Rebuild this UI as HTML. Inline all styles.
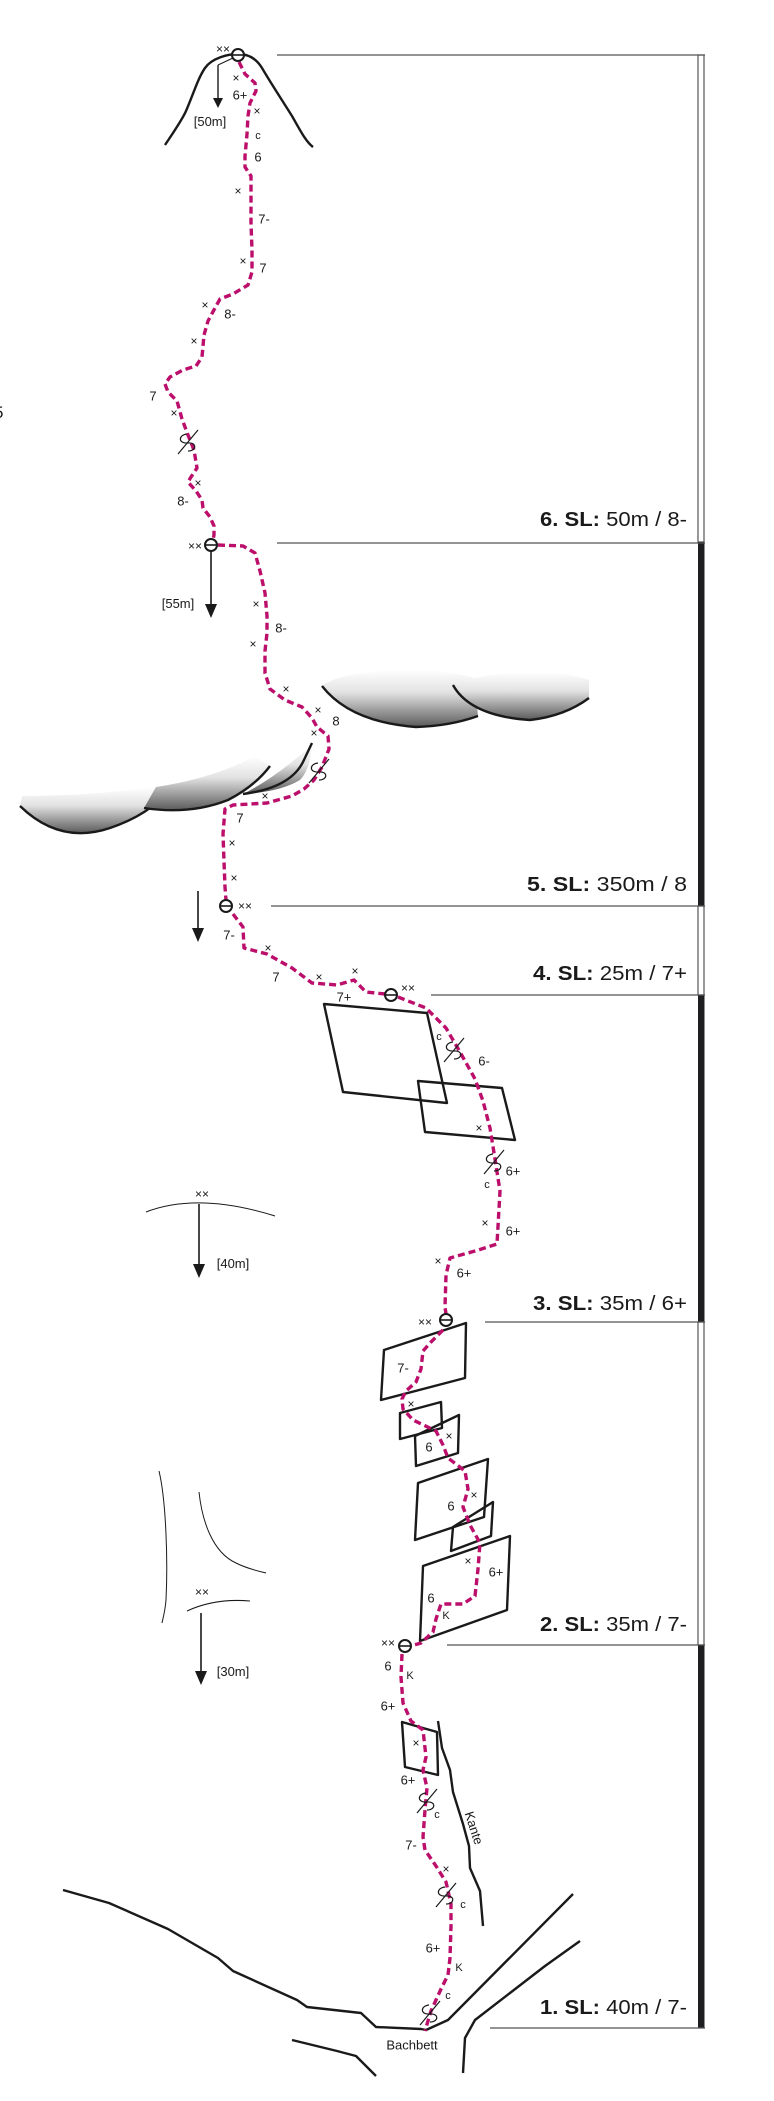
<!DOCTYPE html>
<html><head><meta charset="utf-8"><style>
html,body{margin:0;padding:0;background:#fff}
svg{display:block}
text{font-family:"Liberation Sans",sans-serif;fill:#1a1a1a}
.l{font-size:13px;text-anchor:middle;dominant-baseline:central}
.x{font-size:12px;text-anchor:middle;dominant-baseline:central}
.sl{font-size:20px;text-anchor:end}
.r{fill:none;stroke:#bb0f6b;stroke-width:3.4;stroke-dasharray:7 4;stroke-linejoin:round}
.b{fill:none;stroke:#1a1a1a;stroke-width:2.4;stroke-linejoin:round}
.t{fill:none;stroke:#1a1a1a;stroke-width:1}
.h{stroke:#555;stroke-width:1.3}
.c{fill:#fff;stroke:#1a1a1a;stroke-width:2}
.tw{fill:none;stroke:#1a1a1a;stroke-width:1.2}
</style></head><body>
<svg width="774" height="2101" viewBox="0 0 774 2101" xmlns="http://www.w3.org/2000/svg">
<defs>
<linearGradient id="g" x1="0" y1="0" x2="0" y2="1">
<stop offset="0" stop-color="#fff"/><stop offset="0.4" stop-color="#e2e2e2"/><stop offset="1" stop-color="#5a5a5a"/>
</linearGradient>
<g id="tw"><path class="tw" d="M-10,12 L10,-12"/><path class="tw" d="M-1,-8 C-10,-7 -10,2 0,1 C9,0 9,9 0,9"/></g>
<g id="bc"><circle class="c" r="6"/><line x1="-6" y1="0" x2="6" y2="0" stroke="#1a1a1a" stroke-width="1.6"/></g>
</defs>

<rect x="698" y="55" width="6" height="487" fill="#fff" stroke="#555" stroke-width="1.2"/>
<rect x="698" y="542" width="6.5" height="364" fill="#1f1f22"/>
<rect x="698" y="906" width="6" height="89" fill="#fff" stroke="#555" stroke-width="1.2"/>
<rect x="698" y="995" width="6.5" height="327" fill="#1f1f22"/>
<rect x="698" y="1322" width="6" height="323" fill="#fff" stroke="#555" stroke-width="1.2"/>
<rect x="698" y="1645" width="6.5" height="383" fill="#1f1f22"/>

<line class="h" x1="277" y1="55" x2="705" y2="55"/>
<line class="h" x1="277" y1="543" x2="705" y2="543"/>
<line class="h" x1="271" y1="906" x2="705" y2="906"/>
<line class="h" x1="431" y1="995" x2="705" y2="995"/>
<line class="h" x1="485" y1="1322" x2="705" y2="1322"/>
<line class="h" x1="447" y1="1645" x2="705" y2="1645"/>
<line class="h" x1="490" y1="2028" x2="705" y2="2028"/>

<text class="sl" x="687" y="526" textLength="147" lengthAdjust="spacingAndGlyphs"><tspan font-weight="bold">6. SL:</tspan> 50m / 8-</text>
<text class="sl" x="687" y="891" textLength="160" lengthAdjust="spacingAndGlyphs"><tspan font-weight="bold">5. SL:</tspan> 350m / 8</text>
<text class="sl" x="687" y="980" textLength="154" lengthAdjust="spacingAndGlyphs"><tspan font-weight="bold">4. SL:</tspan> 25m / 7+</text>
<text class="sl" x="687" y="1310" textLength="154" lengthAdjust="spacingAndGlyphs"><tspan font-weight="bold">3. SL:</tspan> 35m / 6+</text>
<text class="sl" x="687" y="1631" textLength="147" lengthAdjust="spacingAndGlyphs"><tspan font-weight="bold">2. SL:</tspan> 35m / 7-</text>
<text class="sl" x="687" y="2014" textLength="147" lengthAdjust="spacingAndGlyphs"><tspan font-weight="bold">1. SL:</tspan> 40m / 7-</text>

<text x="-6" y="418" style="font-size:17px">5</text>

<path class="b" stroke-width="3.2" d="M165,145 C175,130 182,120 186,111 C193,95 198,78 205,68 C212,58 228,54 238,54 C248,54 256,58 262,68 C272,85 282,100 292,116 C300,130 306,142 313,147"/>
<path class="t" d="M233,58 L218,65"/>
<line x1="218" y1="65" x2="218" y2="100" stroke="#1a1a1a" stroke-width="1.4"/>
<path d="M213,98 L218,108 L223,98 Z" fill="#1a1a1a"/>
<text x="210" y="126" style="font-size:13px;text-anchor:middle">[50m]</text>

<path d="M322,686 Q340,672 400,670 Q440,668 474,678 L478,716 Q450,726 416,727 Q350,722 322,686 Z" fill="url(#g)"/>
<path class="b" stroke-width="1.6" d="M322,686 Q350,722 416,727 Q450,726 478,716"/>
<path d="M453,685 Q470,676 520,672 Q560,670 589,680 L589,698 Q565,716 530,720 Q470,716 453,685 Z" fill="url(#g)"/>
<path class="b" stroke-width="1.6" d="M453,685 Q470,716 530,720 Q565,716 589,698"/>
<path d="M20,806 L22,796 Q90,796 156,787 L160,800 Q140,818 110,828 Q60,845 20,806 Z" fill="url(#g)"/>
<path class="b" stroke-width="1.6" d="M20,806 Q60,845 110,828 Q140,818 160,800"/>
<path d="M144,808 L156,787 Q215,778 255,756 L270,766 Q255,786 228,800 Q190,815 144,808 Z" fill="url(#g)"/>
<path class="b" stroke-width="1.6" d="M144,808 Q190,815 228,800 Q255,786 270,766"/>
<path d="M243,794 Q275,778 312,745 Q310,770 300,780 Q280,792 243,794 Z" fill="url(#g)"/>
<path class="b" stroke-width="1.3" d="M243,794 Q290,788 303,762 L312,743"/>

<line x1="211" y1="551" x2="211" y2="606" stroke="#1a1a1a" stroke-width="1.6"/>
<path d="M205,604 L211,618 L217,604 Z" fill="#1a1a1a"/>
<text x="178" y="608" style="font-size:13px;text-anchor:middle">[55m]</text>
<line x1="198" y1="891" x2="198" y2="930" stroke="#1a1a1a" stroke-width="1.6"/>
<path d="M192,928 L198,942 L204,928 Z" fill="#1a1a1a"/>

<path class="t" d="M146,1212 Q198,1192 275,1216"/>
<text class="x" x="202" y="1194">××</text>
<line x1="199" y1="1204" x2="199" y2="1266" stroke="#1a1a1a" stroke-width="1.6"/>
<path d="M193,1264 L199,1278 L205,1264 Z" fill="#1a1a1a"/>
<text x="233" y="1268" style="font-size:13px;text-anchor:middle">[40m]</text>

<path class="t" d="M159,1471 C166,1500 168,1560 166,1600 C165,1612 163,1618 162,1623"/>
<path class="t" d="M199,1492 C202,1520 212,1552 236,1563 C248,1569 258,1571 266,1573"/>
<path class="t" d="M187,1611 Q215,1598 250,1601"/>
<text class="x" x="202" y="1592">××</text>
<line x1="201" y1="1613" x2="201" y2="1673" stroke="#1a1a1a" stroke-width="1.6"/>
<path d="M195,1671 L201,1685 L207,1671 Z" fill="#1a1a1a"/>
<text x="233" y="1676" style="font-size:13px;text-anchor:middle">[30m]</text>

<polygon class="b" fill="#fff" points="418,1081 502,1088 515,1140 425,1132"/>
<polygon class="b" fill="#fff" points="324,1004 427,1013 447,1103 343,1092"/>
<polygon class="b" fill="#fff" points="384,1350 466,1323 465,1378 381,1400"/>
<polygon class="b" fill="#fff" points="400,1413 441,1402 442,1428 400,1439"/>
<polygon class="b" fill="#fff" points="415,1436 459,1415 458,1453 416,1466"/>
<polygon class="b" fill="#fff" points="453,1527 493,1502 491,1536 451,1551"/>
<polygon class="b" fill="#fff" points="418,1483 488,1459 484,1517 415,1540"/>
<polygon class="b" fill="#fff" points="423,1566 510,1536 507,1610 420,1641"/>
<polygon class="b" fill="#fff" points="402,1722 437,1732 438,1775 405,1767"/>

<path class="b" stroke-width="1.8" d="M438,1721 L442,1748 L450,1770 L453,1792 L463,1824 L469,1846 L470,1868 L480,1891 L483,1926"/>
<text x="474" y="1828" transform="rotate(72 474 1828)" style="font-size:13px;text-anchor:middle;dominant-baseline:central">Kante</text>

<path class="b" stroke-width="1.8" d="M63,1890 L109,1903 L168,1929 L218,1958 L233,1971 L297,2000 L307,2007 L361,2013 L376,2027 L421,2029 L426,2030 L448,2020 L573,1894"/>
<path class="b" stroke-width="3.2" d="M292,2040 L337,2051 L356,2056 L376,2076"/>
<path class="b" stroke-width="3.2" d="M580,1941 L545,1966 L510,1993 L475,2020 L465,2038 L463,2073"/>
<text x="412" y="2045" style="font-size:13px;text-anchor:middle;dominant-baseline:central">Bachbett</text>

<path class="r" d="M239,62 L245,74 L255,83 L256,91 L250,103 L248,116 L247,134 L245,156 L245,167 L251,176 L251,201 L251,223 L252,250 L252,272 L248,285 L233,294 L220,299 L215,308 L208,321 L204,335 L202,357 L196,366 L183,370 L170,377 L165,384 L168,392 L177,401 L182,419 L188,435 L194,450 L197,468 L191,477 L188,482 L196,491 L202,500 L203,508 L210,517 L214,526 L214,535 L213,540"/>
<path class="r" d="M218,545 L243,546 L255,553 L260,571 L265,593 L267,616 L267,633 L265,651 L265,673 L270,689 L285,700 L302,707 L312,718 L317,727 L328,736 L329,749 L322,767 L314,780 L304,789 L292,796 L267,803 L233,805 L225,809 L223,834 L224,861 L225,887 L226,900"/>
<path class="r" d="M233,914 L243,927 L244,948 L267,954 L292,968 L312,983 L337,985 L354,980 L366,992 L385,994"/>
<path class="r" d="M398,997 L426,1008 L446,1028 L460,1052 L475,1079 L483,1101 L490,1128 L495,1159 L500,1191 L497,1244 L475,1251 L450,1258 L446,1275 L445,1307 L446,1314"/>
<path class="r" d="M443,1330 L431,1342 L423,1351 L421,1369 L416,1382 L406,1391 L402,1399 L403,1409 L413,1420 L436,1431 L443,1445 L448,1458 L465,1471 L468,1489 L463,1507 L470,1525 L480,1543 L478,1569 L475,1596 L463,1604 L441,1604 L436,1619 L433,1632 L421,1643 L411,1646"/>
<path class="r" d="M402,1654 L401,1677 L403,1703 L411,1721 L423,1730 L426,1757 L423,1770 L427,1788 L425,1810 L423,1837 L425,1850 L436,1866 L446,1882 L451,1904 L451,1926 L450,1958 L448,1975 L441,1989 L431,2011 L425,2031"/>

<use href="#bc" x="238" y="55"/>
<use href="#bc" x="211" y="545"/>
<use href="#bc" x="226" y="906"/>
<use href="#bc" x="391" y="995"/>
<use href="#bc" x="446" y="1320"/>
<use href="#bc" x="405" y="1646"/>

<use href="#tw" x="188" y="442"/>
<use href="#tw" x="319" y="771"/>
<use href="#tw" x="454" y="1050"/>
<use href="#tw" x="494" y="1162"/>
<use href="#tw" x="427" y="1801"/>
<use href="#tw" x="446" y="1895"/>
<use href="#tw" x="430" y="2013"/>

<text class="x" x="223" y="49">××</text>
<text class="x" x="236" y="78">×</text>
<text class="l" x="240" y="95">6+</text>
<text class="x" x="257" y="111">×</text>
<text class="l" x="258" y="136" style="font-size:11px">c</text>
<text class="l" x="258" y="157">6</text>
<text class="x" x="238" y="191">×</text>
<text class="l" x="264" y="219">7-</text>
<text class="x" x="243" y="261">×</text>
<text class="l" x="263" y="268">7</text>
<text class="x" x="205" y="305">×</text>
<text class="l" x="230" y="314">8-</text>
<text class="x" x="194" y="341">×</text>
<text class="l" x="153" y="396">7</text>
<text class="x" x="174" y="413">×</text>
<text class="x" x="198" y="483">×</text>
<text class="l" x="183" y="501">8-</text>
<text class="x" x="195" y="546">××</text>
<text class="x" x="256" y="604">×</text>
<text class="l" x="281" y="628">8-</text>
<text class="x" x="253" y="644">×</text>
<text class="x" x="286" y="689">×</text>
<text class="x" x="318" y="710">×</text>
<text class="l" x="336" y="721">8</text>
<text class="x" x="314" y="733">×</text>
<text class="x" x="265" y="796">×</text>
<text class="l" x="240" y="818">7</text>
<text class="x" x="232" y="843">×</text>
<text class="x" x="234" y="878">×</text>
<text class="x" x="245" y="906">××</text>
<text class="l" x="229" y="935">7-</text>
<text class="x" x="268" y="948">×</text>
<text class="l" x="276" y="977">7</text>
<text class="x" x="319" y="977">×</text>
<text class="x" x="355" y="971">×</text>
<text class="l" x="344" y="997">7+</text>
<text class="x" x="408" y="988">××</text>
<text class="l" x="439" y="1037" style="font-size:11px">c</text>
<text class="l" x="484" y="1061">6-</text>
<text class="x" x="479" y="1128">×</text>
<text class="l" x="513" y="1171">6+</text>
<text class="l" x="487" y="1185" style="font-size:11px">c</text>
<text class="x" x="485" y="1223">×</text>
<text class="l" x="513" y="1231">6+</text>
<text class="x" x="438" y="1261">×</text>
<text class="l" x="464" y="1273">6+</text>
<text class="x" x="425" y="1322">××</text>
<text class="l" x="403" y="1368">7-</text>
<text class="x" x="411" y="1404">×</text>
<text class="x" x="449" y="1436">×</text>
<text class="l" x="429" y="1447">6</text>
<text class="x" x="474" y="1495">×</text>
<text class="l" x="451" y="1506">6</text>
<text class="x" x="468" y="1561">×</text>
<text class="l" x="496" y="1572">6+</text>
<text class="l" x="431" y="1598">6</text>
<text class="l" x="446" y="1616" style="font-size:11px">K</text>
<text class="x" x="388" y="1643">××</text>
<text class="l" x="388" y="1666">6</text>
<text class="l" x="410" y="1676" style="font-size:11px">K</text>
<text class="l" x="388" y="1706">6+</text>
<text class="x" x="416" y="1743">×</text>
<text class="l" x="408" y="1780">6+</text>
<text class="l" x="437" y="1815" style="font-size:11px">c</text>
<text class="l" x="411" y="1845">7-</text>
<text class="x" x="446" y="1869">×</text>
<text class="l" x="463" y="1905" style="font-size:11px">c</text>
<text class="l" x="433" y="1948">6+</text>
<text class="l" x="459" y="1968" style="font-size:11px">K</text>
<text class="l" x="448" y="1996" style="font-size:11px">c</text>
</svg>
</body></html>
